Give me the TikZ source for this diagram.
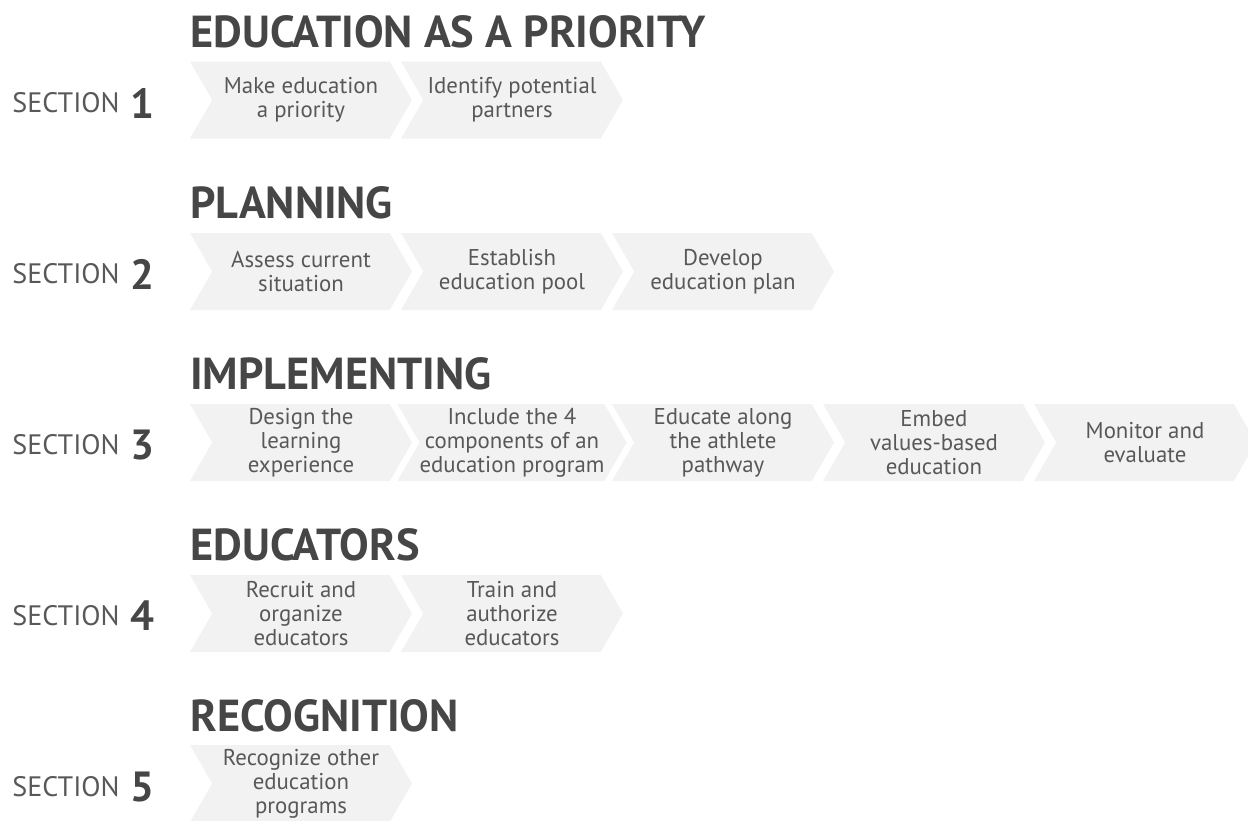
\documentclass[tikz,border=0pt]{standalone}
\usepackage{fontspec}
\setmainfont{PT Sans}
\newfontfamily\headfont{PT Sans}[FakeStretch=0.99]
\usetikzlibrary{shapes.symbols}
\usetikzlibrary{positioning}
\definecolor{mgray}{HTML}{F2F2F2}
\definecolor{mtext}{HTML}{585858}
\definecolor{mhead}{HTML}{464646}
\tikzset{
  chev/.style={shape=signal, signal from=west, signal to=east, signal pointer angle=120,
    fill=mgray, minimum width=4.44cm, minimum height=1.54cm, inner sep=0pt,
    align=center, text=mtext, font=\fontsize{13}{13.7}\selectfont},
  head/.style={anchor=base west, inner sep=0pt, text=mhead,
    font=\headfont\bfseries\fontsize{25.5}{26}\selectfont},
  sect/.style={anchor=west, inner sep=0pt, text=mtext, font=\fontsize{16}{16}\selectfont},
  num/.style={inner sep=0pt, text=mhead, font=\bfseries\fontsize{24}{24}\selectfont}
}

\begin{document}
\begin{tikzpicture}
  \useasboundingbox (0, 0) rectangle (24.96, -16.42);

  % section 1
  \node [head] (t1) at (3.80, -0.94) {EDUCATION AS A PRIORITY};
  \node [sect] (s1) at (0.24, -2.06) {SECTION};
  \node [num, right=0.2cm of s1] (n1) {1};
  \node [chev] (c11) at (6.02, -2.00) {Make education\\a priority};
  \node [chev] (c12) at (10.24, -2.00) {Identify potential\\partners};

  % section 2
  \node [head] (t2) at (3.80, -4.36) {PLANNING};
  \node [sect] (s2) at (0.24, -5.48) {SECTION};
  \node [num, right=0.2cm of s2] (n2) {2};
  \node [chev] (c21) at (6.02, -5.43) {Assess current\\situation};
  \node [chev] (c22) at (10.24, -5.43) {Establish\\education pool};
  \node [chev] (c23) at (14.46, -5.43) {Develop\\education plan};

  % section 3
  \node [head] (t3) at (3.80, -7.78) {IMPLEMENTING};
  \node [sect] (s3) at (0.24, -8.90) {SECTION};
  \node [num, right=0.2cm of s3] (n3) {3};
  \node [chev] (c31) at (6.02, -8.85) {Design the\\learning\\experience};
  \node [chev] (c32) at (10.24, -8.85) {Include the 4\\components of an\\education program};
  \node [chev] (c33) at (14.46, -8.85) {Educate along\\the athlete\\pathway};
  \node [chev] (c34) at (18.68, -8.85) {Embed\\values-based\\education};
  \node [chev] (c35) at (22.90, -8.85) {Monitor and\\evaluate};

  % section 4
  \node [head] (t4) at (3.80, -11.20) {EDUCATORS};
  \node [sect] (s4) at (0.24, -12.32) {SECTION};
  \node [num, right=0.2cm of s4] (n4) {4};
  \node [chev] (c41) at (6.02, -12.27) {Recruit and\\organize\\educators};
  \node [chev] (c42) at (10.24, -12.27) {Train and\\authorize\\educators};

  % section 5
  \node [head] (t5) at (3.80, -14.62) {RECOGNITION};
  \node [sect] (s5) at (0.24, -15.74) {SECTION};
  \node [num, right=0.2cm of s5] (n5) {5};
  \node [chev] (c51) at (6.02, -15.67) {Recognize other\\education\\programs};
\end{tikzpicture}
\end{document}
